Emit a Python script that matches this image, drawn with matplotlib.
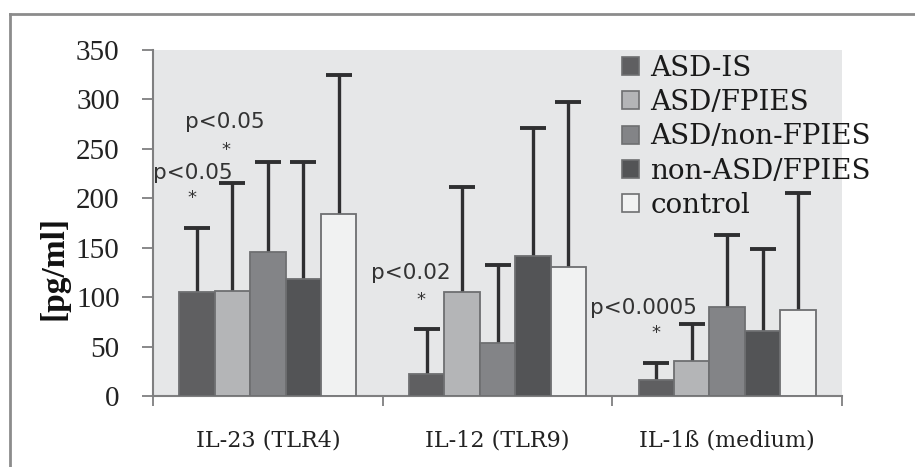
import matplotlib
matplotlib.use("Agg")
import matplotlib.pyplot as plt
from matplotlib.patches import Patch
from matplotlib.lines import Line2D
import numpy as np

# cytokine groups on the x axis
categories = ["IL-23 (TLR4)", "IL-12 (TLR9)", "IL-1ß (medium)"]

# mean concentrations [pg/ml] per patient group, one value per cytokine
series_names = ["ASD-IS", "ASD/FPIES", "ASD/non-FPIES", "non-ASD/FPIES", "control"]
asd_is = [105, 22.5, 16]
asd_fpies = [106.5, 105, 35.5]
asd_non_fpies = [146, 54, 90.5]
non_asd_fpies = [118.5, 142, 66]
control = [184, 130, 87]

# standard deviations (upper error bars)
asd_is_sd = [65, 45, 17.5]
asd_fpies_sd = [108.5, 106, 37]
asd_non_fpies_sd = [91, 78.5, 72]
non_asd_fpies_sd = [118.5, 129, 83]
control_sd = [141, 167, 118]

y_ticks = [0, 50, 100, 150, 200, 250, 300, 350]

# significance notes: (text, x, y) and asterisk positions in data units
p_notes = [("p<0.05", -0.187, 277), ("p<0.05", -0.326, 226),
           ("p<0.02", 0.622, 124), ("p<0.0005", 1.635, 89)]
stars = [(-0.184, 249), (-0.330, 200), (0.668, 97), (1.691, 64)]

means = [asd_is, asd_fpies, asd_non_fpies, non_asd_fpies, control]
sds = [asd_is_sd, asd_fpies_sd, asd_non_fpies_sd, non_asd_fpies_sd, control_sd]
colors = ["#5f5f61", "#b4b5b7", "#838487", "#535456", "#f1f2f2"]
edge = "#6e6f71"

fig = plt.figure(figsize=(9.15, 4.67), dpi=100)
ax = fig.add_axes([153 / 915, 1 - 396 / 467, 689 / 915, 346 / 467])
ax.set_facecolor("#e6e7e8")

x = np.arange(len(categories))
w = 0.154
for i, (m, s, c) in enumerate(zip(means, sds, colors)):
    pos = x + (i - 2) * w
    ax.bar(pos, m, width=w, color=c, edgecolor=edge, linewidth=1.3,
           label=series_names[i], zorder=3)
    eb = ax.errorbar(pos, m, yerr=[np.zeros(len(m)), s], fmt="none",
                     ecolor="#2f2f31", elinewidth=2.4, capsize=9.5,
                     capthick=2.8, zorder=2)
    # only the upper cap is shown
    eb[1][0].set_visible(False)

ax.set_xlim(-0.5, 2.5)
ax.set_ylim(0, 350)

for sp in ["top", "right"]:
    ax.spines[sp].set_visible(False)
for sp in ["left", "bottom"]:
    ax.spines[sp].set_color("#7f7f80")
    ax.spines[sp].set_linewidth(1.5)

ax.set_yticks(y_ticks)
ax.set_yticklabels([str(v) for v in y_ticks], fontfamily="Liberation Serif",
                   fontsize=21, color="#222222")
ax.tick_params(axis="y", direction="out", length=8, width=1.3,
               color="#7f7f80", pad=16)

ax.set_xticks([-0.5, 0.5, 1.5, 2.5])
ax.set_xticklabels([])
ax.tick_params(axis="x", which="major", direction="out", length=7,
               width=1.3, color="#7f7f80")
ax.set_xticks(x, minor=True)
ax.set_xticklabels(categories, minor=True, fontfamily="DejaVu Serif",
                   fontsize=16, color="#222222")
ax.tick_params(axis="x", which="minor", length=0, pad=24)

for txt, tx, ty in p_notes:
    ax.text(tx, ty, txt, ha="center", va="center", fontsize=15.5,
            fontfamily="DejaVu Sans", color="#333333", zorder=5)
for sx, sy in stars:
    ax.text(sx, sy, "*", ha="center", va="center", fontsize=13,
            fontfamily="DejaVu Sans", color="#333333", zorder=5)

handles = [Patch(facecolor=c, edgecolor=edge, linewidth=1.2) for c in colors]
leg = fig.legend(handles, series_names, loc="upper left",
                 bbox_to_anchor=(622 / 915, 1 - 55 / 467), frameon=False,
                 fontsize=20,
                 handlelength=0.62, handleheight=0.62, handletextpad=0.4,
                 labelspacing=0.26, borderpad=0, borderaxespad=0)
for t in leg.get_texts():
    t.set_fontfamily("DejaVu Serif")
    t.set_color("#1a1a1a")

fig.text(54 / 915, 1 - 268 / 467, "[pg/ml]", rotation=90, ha="center",
         va="center", fontfamily="Liberation Serif", fontweight="bold",
         fontsize=24, color="#111111")

# outer frame lines
fig.add_artist(Line2D([10 / 915, 10 / 915], [0, 1 - 14 / 467],
                      transform=fig.transFigure, color="#8c8c8c", lw=2))
fig.add_artist(Line2D([10 / 915, 1], [1 - 14 / 467, 1 - 14 / 467],
                      transform=fig.transFigure, color="#8c8c8c", lw=2))

fig.savefig("out.png", dpi=100)
